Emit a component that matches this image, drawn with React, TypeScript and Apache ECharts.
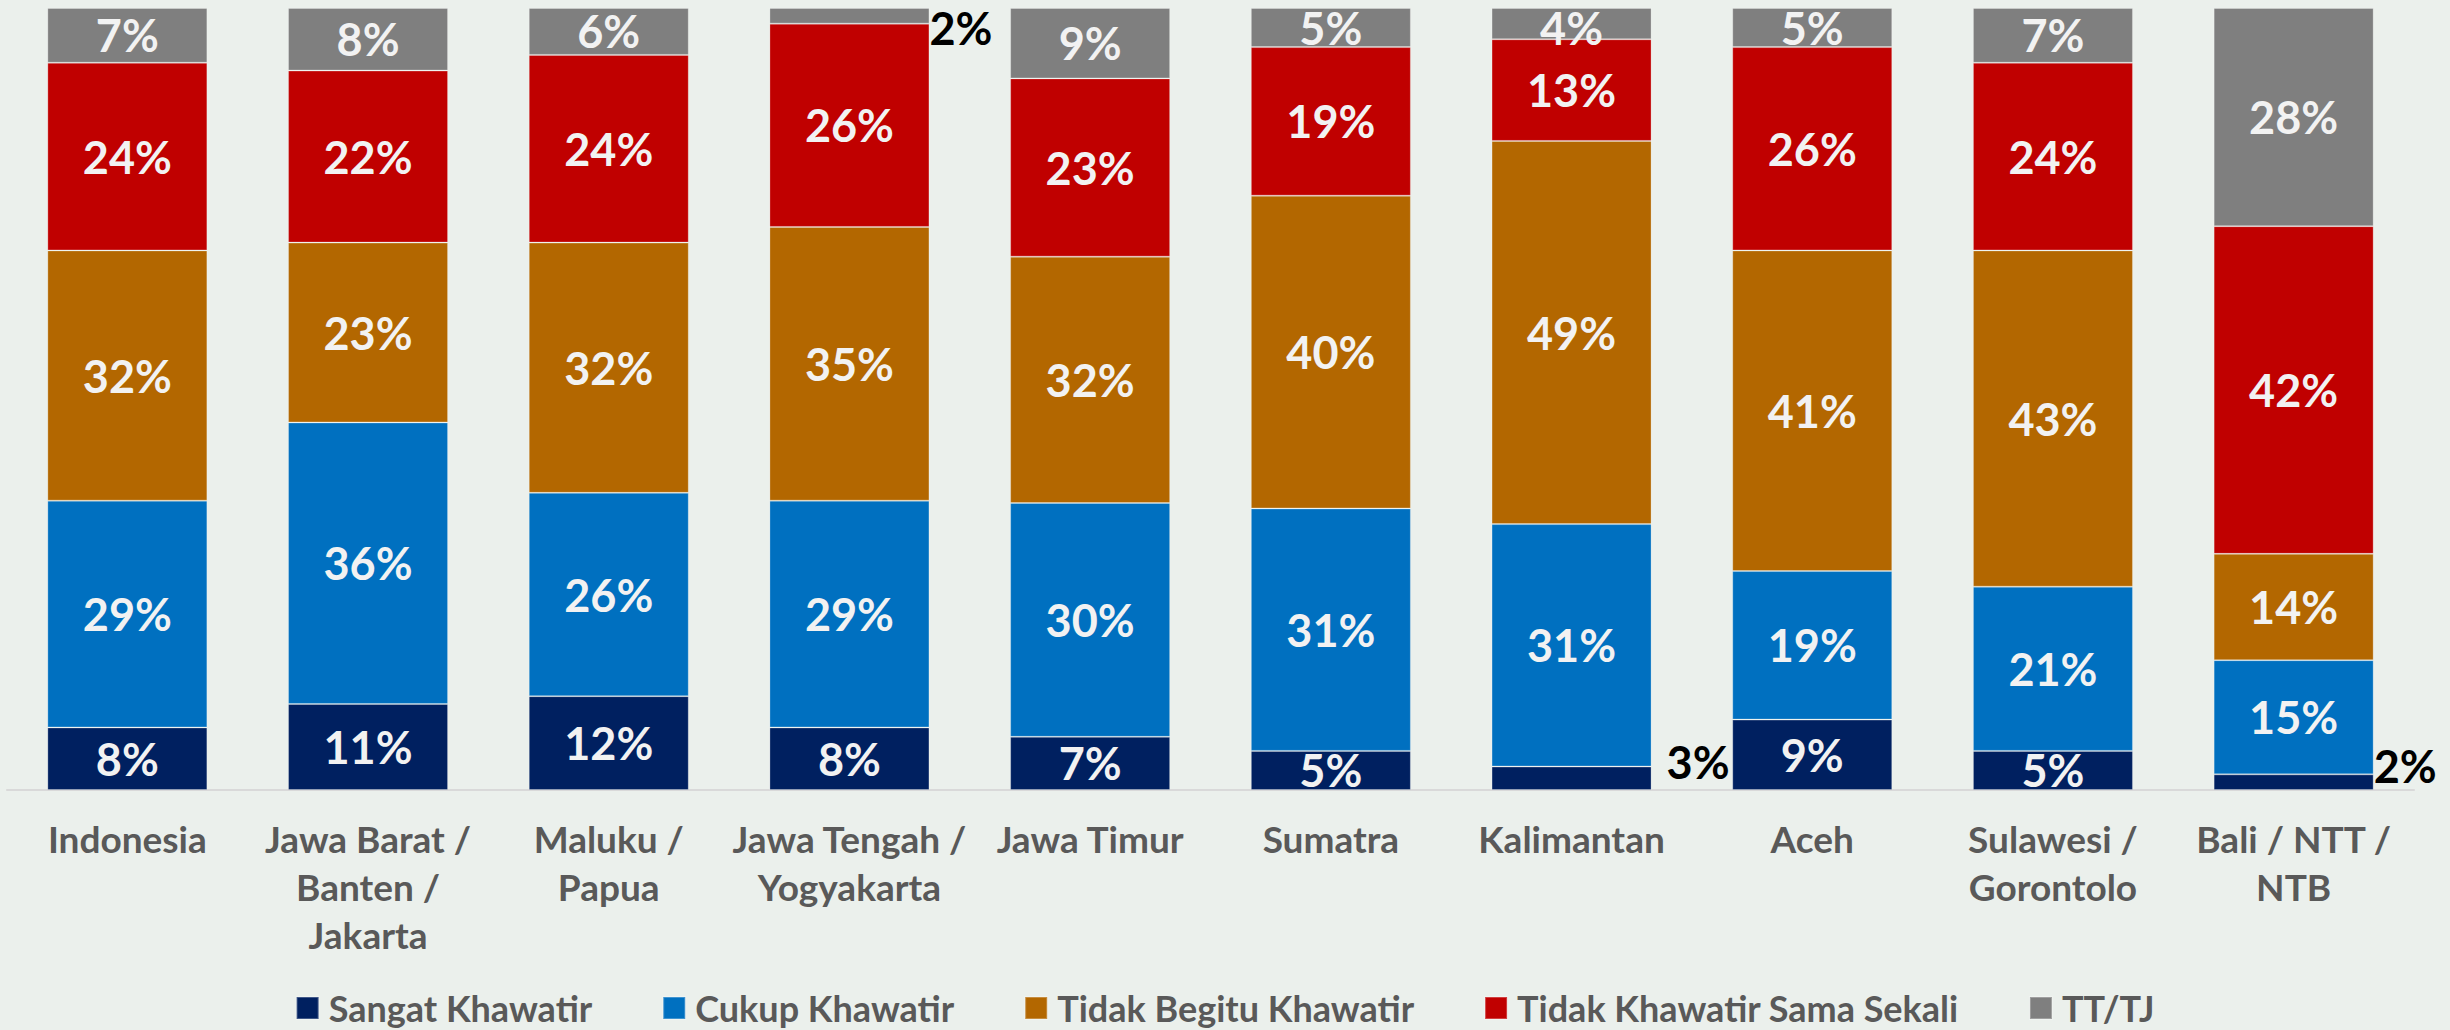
import React, { useEffect, useRef } from "react";
import * as echarts from "echarts";

const categories = [
  "Indonesia",
  "Jawa Barat /\nBanten /\nJakarta",
  "Maluku /\nPapua",
  "Jawa Tengah /\nYogyakarta",
  "Jawa Timur",
  "Sumatra",
  "Kalimantan",
  "Aceh",
  "Sulawesi /\nGorontolo",
  "Bali / NTT /\nNTB",
];

const seriesNames = [
  "Sangat Khawatir",
  "Cukup Khawatir",
  "Tidak Begitu Khawatir",
  "Tidak Khawatir Sama Sekali",
  "TT/TJ",
];

const sangatKhawatir = [8, 11, 12, 8, 6.8, 5, 3, 9, 5, 2];
const cukupKhawatir = [29, 36, 26, 29, 29.9, 31, 31, 19, 21, 14.6];
const tidakBegitu = [32, 23, 32, 35, 31.5, 40, 49, 41, 43, 13.6];
const tidakSamaSekali = [24, 22, 24, 26, 22.8, 19, 13, 26, 24, 41.9];
const ttTj = [7, 8, 6, 2, 9, 5, 4, 5, 7, 27.9];

const colors = ["#002060", "#0070C0", "#B36700", "#C00000", "#7F7F7F"];

// labels drawn outside the bar: [seriesIndex, dataIndex, distance, offsetY]
const outsideLabels: [number, number, number, number][] = [
  [4, 3, 0, 12],
  [0, 6, 15, -16],
  [0, 9, 0, -16],
];
// inside labels nudged down slightly: [seriesIndex, dataIndex, offsetY]
const nudgedLabels: [number, number, number][] = [[4, 6, 4]];

const FONT = "Lato, 'Noto Sans', sans-serif";

export default function App() {
  const ref = useRef<HTMLDivElement>(null);
  useEffect(() => {
    document.body.style.margin = "0";
    const chart = echarts.init(ref.current!, null, { renderer: "svg" });
    const all = [sangatKhawatir, cukupKhawatir, tidakBegitu, tidakSamaSekali, ttTj];
    const series = all.map((vals, si) => ({
      name: seriesNames[si],
      type: "bar",
      stack: "total",
      barWidth: 160,
      itemStyle: { color: colors[si], borderColor: "rgba(255,255,255,0.25)", borderWidth: 1 },
      label: {
        show: true,
        position: "inside",
        formatter: (p: any) => Math.round(p.value) + "%",
        color: "#F2F2F2",
        fontFamily: FONT,
        fontWeight: "bold",
        fontSize: 45,
      },
      data: vals.map((v, di) => {
        const o = outsideLabels.find((x) => x[0] === si && x[1] === di);
        if (o) {
          return {
            value: v,
            label: {
              position: "right",
              distance: o[2],
              offset: [0, o[3]],
              color: "#000000",
            },
          };
        }
        const n = nudgedLabels.find((x) => x[0] === si && x[1] === di);
        if (n) return { value: v, label: { offset: [0, n[2]] } };
        return v;
      }),
    }));
    chart.setOption({
      animation: false,
      backgroundColor: "#EBF0EC",
      color: colors,
      grid: { left: 7, right: 36, top: 8, bottom: 240, containLabel: false },
      xAxis: {
        type: "category",
        data: categories,
        axisTick: { show: false },
        axisLine: { lineStyle: { color: "#D9D9D9", width: 2 } },
        axisLabel: {
          interval: 0,
          margin: 24,
          color: "#595959",
          fontFamily: FONT,
          fontWeight: "bold",
          fontSize: 37,
          lineHeight: 48,
        },
      },
      yAxis: {
        type: "value",
        min: 0,
        max: 100,
        show: false,
        splitLine: { show: false },
      },
      legend: {
        data: seriesNames,
        left: "center",
        top: 983,
        icon: "rect",
        symbolKeepAspect: false,
        itemWidth: 22,
        itemHeight: 22,
        itemGap: 70,
        textStyle: {
          color: "#595959",
          fontFamily: FONT,
          fontWeight: "bold",
          fontSize: 36,
          lineHeight: 40,
          padding: [0, 0, 0, 5],
        },
      },
      series,
    });
    return () => chart.dispose();
  }, []);
  return <div ref={ref} style={{ width: 2450, height: 1030 }} />;
}
